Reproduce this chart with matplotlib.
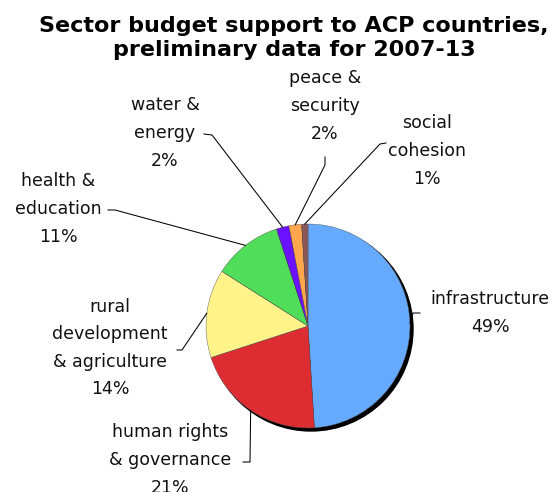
import numpy as np
import matplotlib.pyplot as plt

# data
sectors = ['infrastructure', 'human rights\n& governance', 'rural\ndevelopment\n& agriculture',
           'health &\neducation', 'water &\nenergy', 'peace &\nsecurity', 'social\ncohesion']
shares = [49, 21, 14, 11, 2, 2, 1]
colors = ['#66aaff', '#dd2d33', '#fff38a', '#50dd5a', '#6a11ff', '#ffa64f', '#8a5858']

W, H = 560, 492

# label centres and leader elbows in pixel coords (y from top)
label_xy = [(490, 313), (170, 460), (110, 348), (58, 209), (165, 133), (325, 106), (427, 151)]
elbows = [[(413, 313), (420, 313)],
          [(250, 462), (243, 462)],
          [(182, 350), (177, 350)],
          [(115, 210), (108, 210)],
          [(212, 135), (204, 134)],
          [(325, 165), (325, 157)],
          [(380, 144), (386, 143)]]

fig = plt.figure(figsize=(W / 100, H / 100), dpi=100)
ax = fig.add_axes([0, 0, 1, 1])

cx, cy, r = 308, H - 326, 102
ax.add_patch(plt.Circle((cx + 3, cy - 3), r, color='black', zorder=0))
wedges, _ = ax.pie(shares, colors=colors, startangle=90, counterclock=False,
                   center=(cx, cy), radius=r, frame=True,
                   wedgeprops=dict(edgecolor='#505050', linewidth=0.3))
ax.set_xlim(0, W)
ax.set_ylim(0, H)
ax.set_aspect('auto')
ax.axis('off')

for w, name, share, (lx, ly), elb in zip(wedges, sectors, shares, label_xy, elbows):
    mid = np.deg2rad((w.theta1 + w.theta2) / 2)
    px, py = cx + r * np.cos(mid), cy + r * np.sin(mid)
    xs = [px] + [e[0] for e in elb]
    ys = [py] + [H - e[1] for e in elb]
    ax.plot(xs, ys, color='black', lw=0.75, zorder=3)
    ax.text(lx, H - ly, f'{name}\n{share}%', ha='center', va='center',
            multialignment='center', fontsize=12.5, linespacing=1.68, color='#111111')

fig.text(294 / W, 1 - 38 / H, 'Sector budget support to ACP countries,\npreliminary data for 2007-13',
         ha='center', va='center', fontsize=16, fontweight='bold', linespacing=1.25)

fig.savefig('out.png', dpi=100, facecolor='white')
